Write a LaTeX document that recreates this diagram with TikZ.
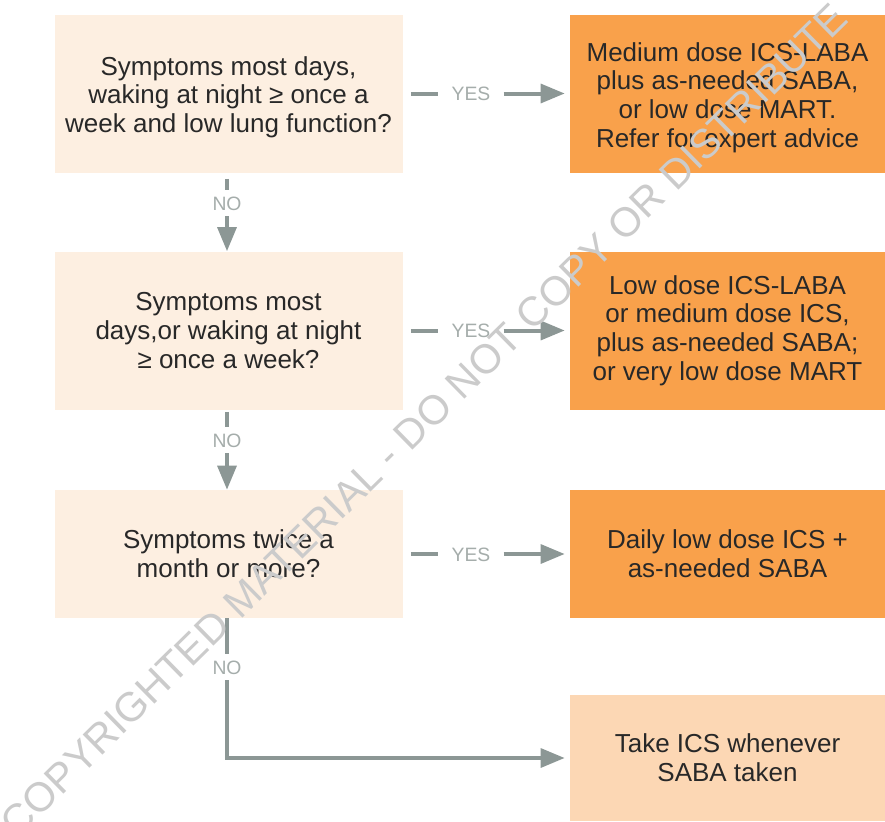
\documentclass[tikz,border=0pt]{standalone}
\usepackage{fontspec}
\setmainfont{Liberation Sans}
\usepackage{pdfrender}
\usetikzlibrary{arrows.meta}

\definecolor{qfill}{HTML}{FDEFE1}
\definecolor{afill}{HTML}{F9A14B}
\definecolor{lfill}{HTML}{FCD7B4}
\definecolor{conncol}{HTML}{8C9795}
\definecolor{lblcol}{HTML}{A5ADAB}
\definecolor{txt}{HTML}{282828}
\definecolor{wm}{HTML}{CBCBCB}

% centred lines of box text, lowered without changing the box size
\newcommand\lowtext[2]{\raisebox{-#1}[\height][\depth]{\begin{tabular}{@{}c@{}}#2\end{tabular}}}

\begin{document}
\begin{tikzpicture}[x=0.75pt,y=-0.75pt,
  box/.style={inner sep=0pt, align=center, text=txt,
    font=\fontsize{19.5}{21.5}\selectfont},
  question/.style={box, fill=qfill, minimum width=261pt, minimum height=118.5pt},
  action/.style={box, fill=afill, minimum width=236.25pt, minimum height=118.5pt},
  lbl/.style={text=lblcol, font=\fontsize{14.5}{14.5}\selectfont,
    inner xsep=9.75pt, inner ysep=4.5pt, text height=10.5pt, text depth=0pt},
  conn/.style={draw=conncol, line width=3pt},
  arr/.style={conn, -{Triangle[length=18pt,width=14pt]}}
]
\fill[white] (0,0) rectangle (885,821);
\useasboundingbox (0,0) rectangle (885,821);

% decision boxes
\node[question] (q1) at (228.5,93.5) {\lowtext{3.5pt}{Symptoms most days,\\waking at night ≥ once a\\week and low lung function?}};
\node[question] (q2) at (228.5,330.5) {Symptoms most\\days,or waking at night\\≥ once a week?};
\node[question, minimum height=96pt] (q3) at (228.5,554) {Symptoms twice a\\month or more?};

% treatment boxes
\node[action] (r1) at (727.5,93.5) {\lowtext{3.75pt}{Medium dose ICS-LABA\\plus as-needed SABA,\\or low dose MART.\\Refer for expert advice}};
\node[action] (r2) at (727.5,330.5) {Low dose ICS-LABA\\or medium dose ICS,\\plus as-needed SABA;\\or very low dose MART};
\node[action, minimum height=96pt] (r3) at (727.5,554) {Daily low dose ICS +\\as-needed SABA};
\node[action, fill=lfill, minimum height=94.5pt] (r4) at (727.5,758) {Take ICS whenever\\SABA taken};

% YES labels and connectors
\node[lbl] (yes1) at (471,93.5) {YES};
\node[lbl] (yes2) at (471,330.5) {YES};
\node[lbl] (yes3) at (471,554) {YES};
\draw[conn, shorten <=6pt] (q1) -- (yes1);
\draw[arr, shorten >=3.75pt] (yes1) -- (r1);
\draw[conn, shorten <=6pt] (q2) -- (yes2);
\draw[arr, shorten >=3.75pt] (yes2) -- (r2);
\draw[conn, shorten <=6pt] (q3) -- (yes3);
\draw[arr, shorten >=3.75pt] (yes3) -- (r3);

% NO labels and connectors
\node[lbl] (no1) at (227,203) {NO};
\node[lbl] (no2) at (227,440) {NO};
\node[lbl] (no3) at (227,667) {NO};
\draw[conn, shorten <=4.5pt] (no1 |- q1.south) -- (no1);
\draw[arr] (no1) -- (no1 |- q2.north);
\draw[conn, shorten <=1.5pt] (no2 |- q2.south) -- (no2);
\draw[arr] (no2) -- (no2 |- q3.north);
\draw[conn] (no3 |- q3.south) -- (no3);
\draw[arr, shorten >=3.75pt] (no3) |- (r4);

% watermark
\node[rotate=44.5, inner sep=0pt, text=wm, font=\fontsize{30.8}{30.8}\selectfont] (wmark) at (424,420)
  {\textpdfrender{TextRenderingMode=Stroke, LineWidth=0.45pt, StrokeColor=wm}{COPYRIGHTED MATERIAL - DO NOT COPY OR DISTRIBUTE}};
\end{tikzpicture}
\end{document}
